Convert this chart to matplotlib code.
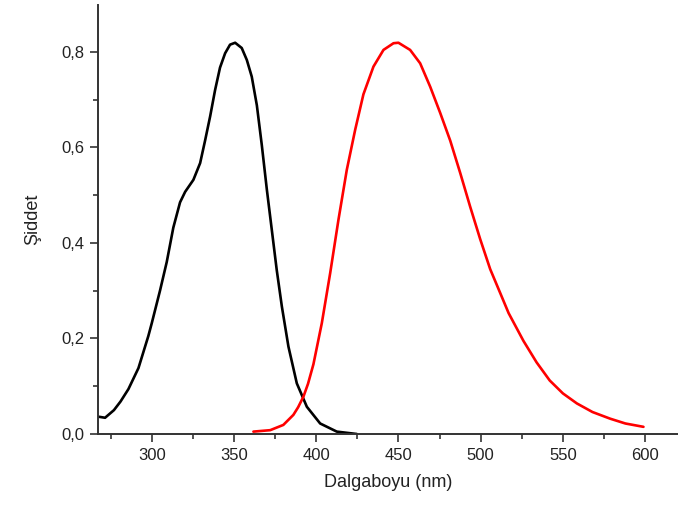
import matplotlib
matplotlib.use("Agg")
import matplotlib.pyplot as plt
from matplotlib.ticker import MultipleLocator, FuncFormatter

plt.rcParams['font.family'] = ['Liberation Sans', 'DejaVu Sans']

# Absorption spectrum (black)
abs_wl = [268, 271.6, 277, 281, 285.8, 291.9, 297.9, 300, 305, 309.1, 313.1, 317.2,
          320.3, 325.3, 329.4, 332.4, 335.5, 338.5, 341.5, 344.6, 347.6, 350.7,
          354.7, 357.8, 360.8, 363.9, 366.9, 370, 373, 376, 379.1, 383.1, 388.2,
          394.3, 402.4, 412.5, 424.7]
abs_int = [0.036, 0.034, 0.050, 0.068, 0.094, 0.138, 0.205, 0.232, 0.300, 0.360, 0.432, 0.485,
           0.507, 0.532, 0.567, 0.614, 0.665, 0.720, 0.767, 0.797, 0.815, 0.819,
           0.808, 0.783, 0.748, 0.688, 0.605, 0.511, 0.427, 0.343, 0.267, 0.183, 0.106,
           0.057, 0.022, 0.005, 0.0]

# Emission spectrum (red)
em_wl = [361.8, 372, 380, 386.1, 389, 392.2, 395, 398.3, 403.4, 408.5, 413.5, 418.6,
         423.7, 428.7, 434.8, 440.9, 447, 450, 457.1, 463.2, 469.3, 475.4, 481.5,
         487.6, 493.6, 499.7, 505.8, 511.9, 517, 526, 534, 542, 550, 558.5, 568,
         578.8, 588, 599]
em_int = [0.005, 0.008, 0.019, 0.040, 0.056, 0.078, 0.105, 0.146, 0.232, 0.337, 0.448, 0.553,
          0.637, 0.711, 0.769, 0.804, 0.818, 0.819, 0.804, 0.776, 0.727, 0.672, 0.614,
          0.546, 0.476, 0.408, 0.345, 0.295, 0.253, 0.195, 0.150, 0.112, 0.085, 0.064, 0.046,
          0.032, 0.022, 0.015]

fig = plt.figure(figsize=(6.78, 5.07), dpi=100)
ax = fig.add_axes([98 / 678, 73 / 507, 1 - 98 / 678, 429 / 507])

ax.plot(abs_wl, abs_int, color='black', lw=1.9, solid_capstyle='round', solid_joinstyle='round')
ax.plot(em_wl, em_int, color='red', lw=1.9, solid_capstyle='round', solid_joinstyle='round')

ax.set_xlim(267.3, 620)
ax.set_ylim(0, 0.898)

for s in ('top', 'right'):
    ax.spines[s].set_visible(False)
for s in ('left', 'bottom'):
    ax.spines[s].set_color('#333333')
    ax.spines[s].set_linewidth(1.4)

ax.xaxis.set_major_locator(MultipleLocator(50))
ax.xaxis.set_minor_locator(MultipleLocator(25))
ax.yaxis.set_major_locator(MultipleLocator(0.2))
ax.yaxis.set_minor_locator(MultipleLocator(0.1))
ax.yaxis.set_major_formatter(FuncFormatter(lambda v, p: f"{v:.1f}".replace('.', ',')))

ax.tick_params(which='major', direction='out', length=6, width=1.2, color='#333333',
               labelsize=12, labelcolor='#222222', pad=4)
ax.tick_params(which='minor', direction='out', length=3.5, width=1.2, color='#333333')

ax.set_xlabel('Dalgaboyu (nm)', fontsize=13, color='#222222', labelpad=8)
ax.set_ylabel('Şiddet', fontsize=13, color='#222222', labelpad=14)

fig.savefig('out.png', dpi=100, facecolor='white')
